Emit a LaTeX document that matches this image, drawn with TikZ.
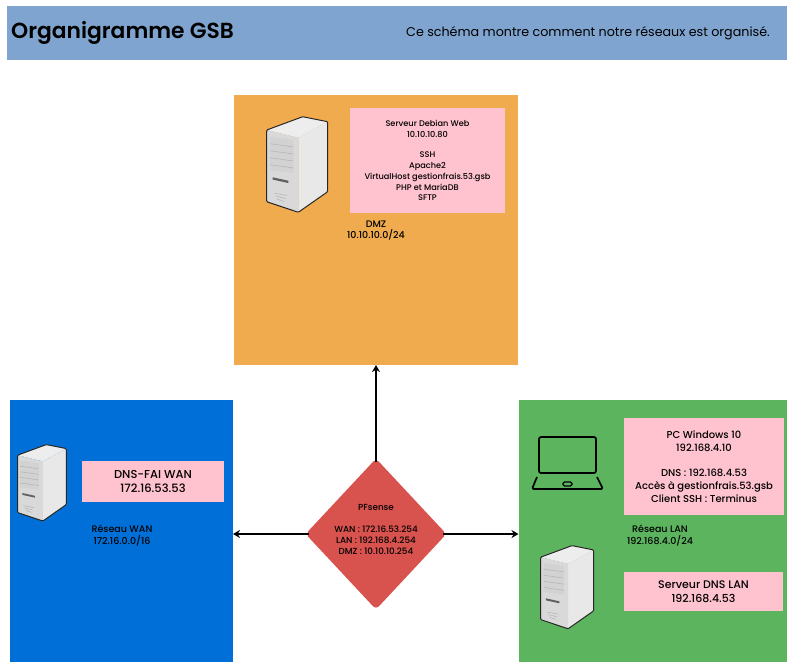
\documentclass[tikz,border=0pt]{standalone}
\usepackage{fontspec}
\usepackage{xcolor}
\setmainfont{Poppins Medium}
\newfontfamily\titlefont{Poppins SemiBold}
\newfontfamily\leadfont{Poppins}
\definecolor{headblue}{RGB}{127,164,207}
\definecolor{dmzorange}{RGB}{240,171,78}
\definecolor{wanblue}{RGB}{0,112,216}
\definecolor{langreen}{RGB}{92,180,95}
\definecolor{infopink}{RGB}{255,194,207}
\definecolor{fwred}{RGB}{216,82,78}
\usetikzlibrary{shapes.geometric, arrows.meta}
\tikzset{
  servericon/.pic={
    \fill[gray!14] (0.7,14) -- (36.7,0.7) -- (61.7,5.7) -- (32.3,21.7) -- cycle;
    \fill[gray!18] (32.3,21.7) -- (61.7,5.7) -- (61.7,75.7) -- (32.3,96.3) -- cycle;
    \fill[gray!30] (0.7,14) -- (32.3,21.7) -- (32.3,96.3) -- (0.7,85.7) -- cycle;
    \fill[gray!35] (4,20.7) -- (27.3,24) -- (27.3,57) -- (4,54) -- cycle;
    \foreach \yy in {7,14,21,28}
      \draw[gray!60, line width=.5pt] (4,20.7+\yy) -- (27.3,24+\yy);
    \fill[gray!75!black] (6.7,61.3) -- (22.3,64.7) -- (22.3,67) -- (6.7,63.6) -- cycle;
    \foreach \yy in {0,3,6}
      \draw[gray!60, line width=.5pt] (8+\yy/2,77+\yy) -- (21-\yy/2,79.5+\yy);
    \draw[black!85, line width=1pt, line join=round, rounded corners=1pt] (0.7,14) -- (36.7,0.7) -- (61.7,5.7) -- (61.7,75.7) -- (32.3,96.3) -- (0.7,85.7) -- cycle;
  }
}
\begin{document}
\begin{tikzpicture}[
  x=1pt, y=-1pt,
  zone/.style={anchor=north west, inner sep=0pt, outer sep=0pt},
  infobox/.style={fill=infopink, anchor=north west, inner sep=0pt, outer sep=0pt, align=center, text=black},
  netlabel/.style={align=center, inner sep=0pt, font=\fontsize{9.5}{11.8}\selectfont},
  link/.style={draw=black, line width=1.4pt, -{Stealth[length=7pt, width=8pt]}, shorten <=-4pt}
]
\useasboundingbox (0,0) rectangle (787,662);

% header band
\node[zone, fill=headblue, minimum width=780pt, minimum height=54pt] (header) at (7,6) {};
\node[inner sep=0pt, anchor=west, font=\fontsize{21.8}{26}\titlefont] (title) at (11,33) {Organigramme GSB};
\node[inner sep=0pt, anchor=west, font=\fontsize{12.7}{15}\leadfont] (subtitle) at (406,33) {Ce schéma montre comment notre réseaux est organisé.};

% zones
\node[zone, fill=dmzorange, minimum width=284pt, minimum height=270pt] (dmz) at (234,95) {};
\node[zone, fill=wanblue, minimum width=223pt, minimum height=262pt] (wan) at (10,400) {};
\node[zone, fill=langreen, minimum width=268.5pt, minimum height=262pt] (lan) at (518.5,400) {};

% firewall
\node[diamond, fill=fwred, rounded corners=4pt, minimum width=141pt, minimum height=151pt, inner sep=0pt] (pfsense) at (376,534) {};
\node[inner sep=0pt, align=center, font=\fontsize{8.8}{11.2}\selectfont] (pfsensetxt) at (376,529.5) {PFsense\\[11.2pt]WAN : 172.16.53.254\\LAN : 192.168.4.254\\DMZ : 10.10.10.254};

\draw[link] (pfsense.north) -- (dmz.south -| pfsense.north);
\draw[link] (pfsense.west) -- (wan.east |- pfsense.west);
\draw[link] (pfsense.east) -- (lan.west |- pfsense.east);

% info boxes
\node[infobox, minimum width=155pt, minimum height=105pt, font=\fontsize{8.2}{10.8}\selectfont] (web) at (350,108)
  {Serveur Debian Web\\10.10.10.80\\[9.8pt]SSH\\Apache2\\VirtualHost gestionfrais.53.gsb\\PHP et MariaDB\\SFTP};
\node[infobox, minimum width=142pt, minimum height=41pt, font=\fontsize{11.5}{14.5}\selectfont] (dnswan) at (82,461)
  {DNS-FAI WAN\\172.16.53.53};
\node[infobox, minimum width=160pt, minimum height=97pt, font=\fontsize{10}{13}\selectfont] (pcwin) at (624,418)
  {PC Windows 10\\192.168.4.10\\[12pt]DNS : 192.168.4.53\\Accès à gestionfrais.53.gsb\\Client SSH : Terminus};
\node[infobox, minimum width=159pt, minimum height=39pt, font=\fontsize{11}{13.8}\selectfont] (dnslan) at (624,572)
  {Serveur DNS LAN\\192.168.4.53};

% network labels
\node[netlabel] (dmzlbl) at (376,230.5) {DMZ\\10.10.10.0/24};
\node[netlabel] (wanlbl) at (122,535.5) {Réseau WAN\\172.16.0.0/16};
\node[netlabel] (lanlbl) at (660,535.5) {Réseau LAN\\192.168.4.0/24};

% servers
\pic (srvdmz) at (266,116) {servericon};
\pic[scale=.8] (srvwan) at (17,444) {servericon};
\pic[scale=.87] (srvlan) at (540,545) {servericon};

% laptop
\draw[black, line width=1.7pt, rounded corners=2pt] (539,437) rectangle (596,473);
\draw[black, line width=1.7pt, rounded corners=1.5pt, line join=round] (537,477) -- (532,489) -- (603,489) -- (597,477);
\draw[black, line width=1.1pt, rounded corners=1.5pt] (563,482) rectangle (572,486);
\end{tikzpicture}
\end{document}
